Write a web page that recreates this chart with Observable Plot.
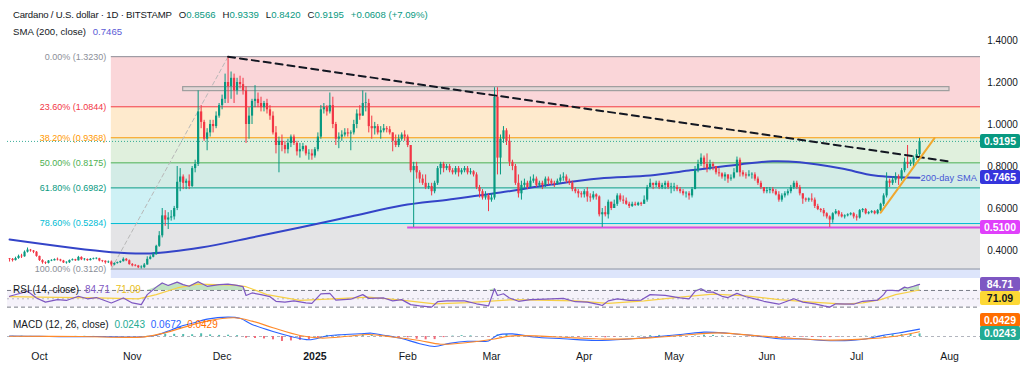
<!DOCTYPE html>
<html><head><meta charset="utf-8">
<script src="https://cdn.jsdelivr.net/npm/d3@7"></script>
<script src="https://cdn.jsdelivr.net/npm/@observablehq/plot@0.6"></script>
<style>
html,body{margin:0;padding:0;background:#fff;}
#wrap{position:relative;width:1024px;height:377px;overflow:hidden;font-family:"Liberation Sans",Arial,sans-serif;color:#131722;}
.pane{position:absolute;left:0;}
.pane svg{display:block;overflow:visible;}
.ov{position:absolute;white-space:nowrap;font-size:10px;line-height:12px;}
.ov .gap{margin-left:7px;}
.box{position:absolute;left:980px;width:40px;height:14px;line-height:14px;text-align:center;color:#fff;font-weight:bold;font-size:10.5px;border-radius:2px;}
</style></head><body><div id="wrap"></div>
<script>
// ---------- DATA ----------
const firstOpen = 0.360;
// daily candles as [high, low, close]; open = previous close
const sep24 = [[0.362,0.345,0.358],[0.362,0.345,0.352],[0.368,0.350,0.362],[0.378,0.358,0.372],[0.382,0.362,0.370],[0.398,0.368,0.392],[0.412,0.388,0.402],[0.405,0.392,0.398],[0.400,0.385,0.392],[0.395,0.368,0.372]];
const oct24 = [[0.373,0.348,0.352],[0.356,0.335,0.342],[0.346,0.333,0.339],[0.352,0.336,0.350],[0.356,0.347,0.351],[0.360,0.350,0.357],[0.364,0.350,0.355],[0.358,0.346,0.350],[0.353,0.338,0.341],[0.346,0.335,0.342],[0.355,0.338,0.352],[0.360,0.350,0.356],[0.358,0.348,0.351],[0.372,0.350,0.367],[0.370,0.352,0.356],[0.362,0.350,0.357],[0.360,0.348,0.352],[0.362,0.350,0.358],[0.364,0.355,0.360],[0.365,0.356,0.361],[0.363,0.346,0.350],[0.353,0.342,0.349],[0.351,0.335,0.342],[0.350,0.338,0.345],[0.350,0.322,0.331],[0.341,0.327,0.338],[0.345,0.335,0.342],[0.350,0.338,0.347],[0.365,0.345,0.358],[0.362,0.347,0.351],[0.355,0.330,0.333]];
const nov24 = [[0.338,0.322,0.327],[0.333,0.322,0.326],[0.329,0.314,0.318],[0.327,0.312,0.318],[0.338,0.315,0.331],[0.370,0.330,0.358],[0.375,0.355,0.368],[0.390,0.365,0.380],[0.425,0.378,0.420],[0.490,0.415,0.470],[0.600,0.460,0.565],[0.590,0.515,0.545],[0.580,0.500,0.555],[0.590,0.540,0.560],[0.610,0.545,0.600],[0.800,0.590,0.725],[0.790,0.680,0.750],[0.760,0.690,0.720],[0.740,0.690,0.730],[0.760,0.690,0.705],[0.800,0.700,0.790],[0.830,0.770,0.810],[1.160,0.800,1.060],[1.090,0.980,1.010],[1.020,0.920,0.930],[0.980,0.875,0.960],[1.020,0.940,1.000],[1.020,0.960,0.990],[1.060,0.980,1.040],[1.100,1.030,1.090]];
const dec24 = [[1.140,1.070,1.120],[1.240,1.100,1.200],[1.323,1.100,1.180],[1.250,1.120,1.220],[1.240,1.100,1.160],[1.220,1.140,1.200],[1.230,1.170,1.190],[1.220,1.140,1.160],[1.180,0.910,1.000],[1.080,0.930,1.040],[1.120,1.000,1.110],[1.185,1.080,1.120],[1.150,1.080,1.100],[1.130,1.060,1.080],[1.110,1.060,1.100],[1.120,1.050,1.070],[1.090,1.020,1.040],[1.060,0.950,0.960],[0.990,0.860,0.900],[0.940,0.770,0.920],[0.950,0.870,0.900],[0.920,0.860,0.880],[0.930,0.860,0.910],[0.950,0.890,0.940],[0.950,0.900,0.910],[0.920,0.850,0.870],[0.910,0.840,0.880],[0.910,0.870,0.895],[0.900,0.850,0.860],[0.880,0.830,0.860],[0.880,0.830,0.850]];
const jan25 = [[0.890,0.840,0.880],[0.960,0.870,0.940],[1.090,0.930,1.070],[1.100,1.050,1.080],[1.090,1.040,1.060],[1.150,1.050,1.090],[1.130,0.980,1.000],[1.010,0.900,0.930],[0.960,0.885,0.940],[0.970,0.920,0.950],[0.980,0.940,0.960],[0.980,0.940,0.955],[0.970,0.875,0.960],[1.020,0.950,1.000],[1.070,0.980,1.050],[1.090,1.020,1.040],[1.160,1.040,1.100],[1.150,1.060,1.100],[1.120,0.960,0.990],[1.040,0.930,0.980],[1.010,0.950,0.990],[1.000,0.950,0.960],[0.990,0.930,0.970],[1.000,0.960,0.980],[0.990,0.960,0.975],[0.990,0.950,0.960],[0.960,0.870,0.920],[0.950,0.890,0.900],[0.950,0.890,0.930],[0.960,0.920,0.950],[0.970,0.920,0.940]];
const feb25 = [[0.950,0.890,0.900],[0.900,0.770,0.780],[0.820,0.510,0.800],[0.820,0.740,0.770],[0.780,0.720,0.740],[0.760,0.710,0.720],[0.760,0.690,0.700],[0.720,0.690,0.705],[0.720,0.660,0.680],[0.730,0.670,0.720],[0.800,0.710,0.790],[0.820,0.760,0.810],[0.820,0.770,0.790],[0.810,0.780,0.800],[0.810,0.770,0.780],[0.790,0.760,0.770],[0.800,0.760,0.790],[0.800,0.750,0.770],[0.790,0.760,0.780],[0.800,0.770,0.790],[0.800,0.760,0.770],[0.790,0.760,0.775],[0.780,0.750,0.760],[0.770,0.690,0.700],[0.710,0.650,0.680],[0.690,0.640,0.650],[0.680,0.640,0.660],[0.670,0.585,0.640]];
const mar25 = [[0.670,0.630,0.650],[1.175,0.640,1.130],[1.175,0.760,0.840],[0.950,0.760,0.930],[0.990,0.910,0.970],[0.980,0.900,0.920],[0.950,0.800,0.820],[0.830,0.780,0.800],[0.810,0.710,0.720],[0.760,0.650,0.670],[0.730,0.640,0.710],[0.740,0.690,0.720],[0.730,0.690,0.700],[0.750,0.700,0.730],[0.760,0.720,0.740],[0.750,0.700,0.710],[0.730,0.700,0.720],[0.730,0.690,0.710],[0.750,0.700,0.740],[0.750,0.710,0.730],[0.740,0.710,0.720],[0.730,0.700,0.715],[0.740,0.710,0.730],[0.760,0.720,0.745],[0.770,0.730,0.750],[0.760,0.720,0.730],[0.740,0.710,0.720],[0.730,0.680,0.690],[0.700,0.670,0.680],[0.690,0.650,0.670],[0.680,0.650,0.665]];
const apr25 = [[0.690,0.650,0.680],[0.700,0.630,0.655],[0.670,0.630,0.650],[0.680,0.640,0.665],[0.670,0.640,0.655],[0.660,0.560,0.570],[0.600,0.510,0.580],[0.610,0.560,0.570],[0.640,0.550,0.630],[0.630,0.590,0.600],[0.640,0.600,0.620],[0.670,0.610,0.660],[0.670,0.630,0.640],[0.660,0.620,0.635],[0.650,0.615,0.620],[0.630,0.600,0.610],[0.630,0.605,0.620],[0.630,0.610,0.615],[0.630,0.610,0.625],[0.630,0.610,0.620],[0.660,0.620,0.640],[0.710,0.630,0.700],[0.740,0.700,0.720],[0.720,0.690,0.710],[0.730,0.700,0.720],[0.730,0.690,0.700],[0.720,0.690,0.710],[0.730,0.690,0.720],[0.730,0.690,0.700],[0.720,0.670,0.700]];
const may25 = [[0.720,0.680,0.700],[0.710,0.680,0.690],[0.700,0.670,0.680],[0.690,0.660,0.670],[0.680,0.650,0.670],[0.680,0.640,0.660],[0.700,0.650,0.690],[0.800,0.690,0.780],[0.830,0.770,0.810],[0.860,0.800,0.840],[0.850,0.790,0.810],[0.860,0.770,0.790],[0.830,0.780,0.810],[0.820,0.780,0.800],[0.800,0.760,0.770],[0.790,0.750,0.765],[0.770,0.740,0.750],[0.770,0.730,0.760],[0.760,0.720,0.740],[0.760,0.730,0.745],[0.790,0.740,0.770],[0.845,0.770,0.830],[0.840,0.750,0.770],[0.780,0.750,0.760],[0.770,0.740,0.755],[0.780,0.750,0.760],[0.770,0.740,0.760],[0.770,0.730,0.740],[0.750,0.710,0.720],[0.730,0.690,0.700],[0.700,0.670,0.680]];
const jun25 = [[0.700,0.670,0.685],[0.700,0.670,0.690],[0.700,0.670,0.680],[0.690,0.660,0.665],[0.680,0.630,0.640],[0.670,0.630,0.660],[0.680,0.650,0.670],[0.690,0.660,0.680],[0.710,0.670,0.700],[0.730,0.690,0.720],[0.730,0.690,0.700],[0.710,0.660,0.670],[0.670,0.620,0.645],[0.650,0.630,0.640],[0.650,0.630,0.645],[0.670,0.630,0.640],[0.650,0.600,0.610],[0.620,0.590,0.595],[0.600,0.580,0.590],[0.600,0.560,0.575],[0.580,0.550,0.560],[0.565,0.510,0.545],[0.580,0.530,0.575],[0.595,0.570,0.585],[0.590,0.560,0.570],[0.580,0.555,0.560],[0.570,0.550,0.565],[0.575,0.560,0.570],[0.580,0.565,0.575],[0.580,0.550,0.560]];
const jul25 = [[0.570,0.540,0.555],[0.595,0.550,0.590],[0.600,0.580,0.595],[0.600,0.570,0.575],[0.585,0.570,0.580],[0.590,0.575,0.585],[0.590,0.570,0.575],[0.595,0.570,0.590],[0.625,0.585,0.620],[0.670,0.610,0.660],[0.770,0.650,0.730],[0.740,0.700,0.720],[0.750,0.710,0.735],[0.770,0.720,0.750],[0.760,0.710,0.740],[0.790,0.730,0.780],[0.840,0.770,0.820],[0.900,0.790,0.810],[0.830,0.800,0.820],[0.850,0.800,0.840],[0.880,0.830,0.8566],[0.9339,0.8420,0.9195]];
const firstDay = [2024, 8, 21];

// 200-day SMA
const smaDates = ["2024-09-21","2024-10-25","2024-11-07","2024-11-24","2024-12-11","2024-12-27","2025-01-13","2025-01-30","2025-02-15","2025-03-04","2025-03-21","2025-04-06","2025-04-23","2025-05-06","2025-05-23","2025-06-03","2025-06-12","2025-06-26","2025-07-07","2025-07-22"];
const smaValues = [0.452,0.392,0.386,0.414,0.462,0.510,0.562,0.614,0.643,0.676,0.714,0.743,0.757,0.781,0.810,0.825,0.820,0.790,0.757,0.7465];

// Fibonacci retracement
const fibPcts = ["0.00%","23.60%","38.20%","50.00%","61.80%","78.60%","100.00%"];
const fibPrices = [1.3230,1.0844,0.9368,0.8175,0.6982,0.5284,0.3120];
const fibColors = ["#8c8f99","#f23645","#ff9800","#4caf50","#089981","#00bcd4","#8c8f99"];
const fibFills = ["#fad6d9","#feeacd","#e0f0dd","#d3ece6","#cef1f5","#e4e4e6","#dde5fb"];
const fibStart = "2024-10-25", fibEnd = "2024-12-03";

// drawings
const resistBox = {from:"2024-11-18", to:"2025-08-01", top:1.178, bottom:1.159};
const trendDates = ["2024-12-03","2025-08-01"], trendPrices = [1.323,0.824];
const supportDates = ["2025-07-09","2025-07-27"], supportPrices = [0.580,0.935];
const floorStart = "2025-02-01", floorPrice = 0.51;
const lastPrice = 0.9195, lastSma = 0.7465;

// RSI (14) and its MA
const rsiDates = ["2024-09-21","2024-09-25","2024-09-27","2024-09-30","2024-10-03","2024-10-07","2024-10-10","2024-10-14","2024-10-17","2024-10-20","2024-10-25","2024-10-29","2024-11-01","2024-11-04","2024-11-06","2024-11-09","2024-11-11","2024-11-13","2024-11-16","2024-11-18","2024-11-20","2024-11-23","2024-11-26","2024-11-30","2024-12-03","2024-12-06","2024-12-08","2024-12-09","2024-12-11","2024-12-14","2024-12-17","2024-12-19","2024-12-22","2024-12-25","2024-12-29","2024-12-31","2025-01-03","2025-01-06","2025-01-08","2025-01-13","2025-01-17","2025-01-19","2025-01-24","2025-01-27","2025-01-30","2025-02-02","2025-02-05","2025-02-09","2025-02-11","2025-02-14","2025-02-20","2025-02-24","2025-02-28","2025-03-02","2025-03-03","2025-03-05","2025-03-07","2025-03-10","2025-03-14","2025-03-19","2025-03-25","2025-03-29","2025-04-02","2025-04-06","2025-04-07","2025-04-09","2025-04-12","2025-04-16","2025-04-20","2025-04-23","2025-04-28","2025-05-03","2025-05-06","2025-05-08","2025-05-10","2025-05-12","2025-05-14","2025-05-17","2025-05-19","2025-05-22","2025-05-25","2025-05-29","2025-05-31","2025-06-05","2025-06-10","2025-06-13","2025-06-17","2025-06-20","2025-06-22","2025-06-24","2025-06-30","2025-07-03","2025-07-08","2025-07-10","2025-07-11","2025-07-13","2025-07-15","2025-07-17","2025-07-18","2025-07-20","2025-07-22"];
const rsiValues = [56,64,68,52,42,48,46,56,50,53,40,52,40,36,60,78,88,82,90,84,80,91,80,84,85,82,79,58,64,60,55,44,42,45,40,39,62,63,47,49,60,51,52,45,48,36,33,30,43,45,45,38,33,74,58,62,52,44,48,49,51,43,42,36,34,45,50,46,47,60,58,52,50,68,74,66,66,56,53,63,55,48,44,37,50,42,38,33,30,38,37,44,47,60,70,70,69,78,76,80,84.71];
const rsiMaDates = ["2024-09-21","2024-10-01","2024-10-20","2024-11-03","2024-11-09","2024-11-16","2024-11-23","2024-12-05","2024-12-09","2024-12-16","2024-12-27","2025-01-07","2025-01-19","2025-01-30","2025-02-10","2025-02-21","2025-03-08","2025-03-29","2025-04-09","2025-04-21","2025-05-03","2025-05-14","2025-05-25","2025-06-05","2025-06-16","2025-06-27","2025-07-03","2025-07-09","2025-07-14","2025-07-22"];
const rsiMaValues = [55,54,52,50,60,76,85,83,79,60,46,50,54,47,38,41,48,45,39,45,54,61,57,48,42,37,40,48,60,71.09];
const rsiLevels = [70, 50, 30];

// MACD (12, 26)
const macdDates = ["2024-09-21","2024-10-01","2024-10-10","2024-10-20","2024-11-03","2024-11-09","2024-11-14","2024-11-18","2024-11-21","2024-11-26","2024-12-03","2024-12-07","2024-12-11","2024-12-18","2024-12-25","2024-12-30","2025-01-05","2025-01-09","2025-01-16","2025-01-20","2025-01-24","2025-01-30","2025-02-05","2025-02-10","2025-02-15","2025-02-21","2025-02-28","2025-03-03","2025-03-08","2025-03-15","2025-03-25","2025-04-05","2025-04-16","2025-04-23","2025-05-04","2025-05-11","2025-05-19","2025-05-27","2025-06-05","2025-06-13","2025-06-20","2025-06-27","2025-07-04","2025-07-09","2025-07-15","2025-07-22"];
const macdValues = [0.004,0.001,-0.002,0.000,-0.004,0.012,0.060,0.100,0.120,0.158,0.176,0.165,0.110,0.045,-0.006,-0.030,0.005,0.015,0.025,0.030,0.012,-0.018,-0.065,-0.090,-0.062,-0.043,-0.040,0.012,0.024,-0.004,-0.020,-0.036,-0.022,-0.006,0.020,0.040,0.030,0.010,-0.020,-0.022,-0.036,-0.037,-0.022,0.006,0.032,0.0672];
const signalDates = ["2024-09-21","2024-10-15","2024-11-05","2024-11-12","2024-11-19","2024-11-26","2024-12-05","2024-12-11","2024-12-18","2024-12-27","2025-01-03","2025-01-12","2025-01-19","2025-01-27","2025-02-05","2025-02-12","2025-02-21","2025-03-02","2025-03-08","2025-03-29","2025-04-09","2025-04-23","2025-05-08","2025-05-16","2025-05-30","2025-06-10","2025-06-22","2025-07-03","2025-07-14","2025-07-22"];
const signalValues = [0.003,0.000,-0.003,0.035,0.090,0.140,0.170,0.140,0.080,0.010,-0.014,0.002,0.018,-0.004,-0.036,-0.070,-0.055,-0.022,0.006,-0.012,-0.024,-0.012,0.021,0.033,0.004,-0.018,-0.033,-0.024,0.003,0.0429];
const histStart = [2024, 8, 22], histStep = 3;
const histValues = [0.002,0.003,0.001,-0.002,-0.003,-0.002,0.000,0.001,0.002,0.001,-0.001,-0.002,-0.003,-0.004,-0.004,0.002,0.010,0.022,0.020,0.018,0.016,0.025,0.015,0.010,0.012,0.008,-0.015,-0.018,-0.022,-0.030,-0.045,-0.040,-0.035,-0.030,-0.015,0.010,0.008,0.004,0.006,0.015,0.012,0.005,-0.002,-0.008,-0.012,-0.025,-0.030,-0.028,-0.010,0.004,0.008,0.006,0.000,-0.005,0.015,0.018,0.010,0.003,-0.002,-0.003,-0.004,-0.002,-0.003,-0.006,-0.007,-0.008,-0.012,-0.006,0.000,0.002,0.003,0.008,0.010,0.007,0.003,-0.002,0.004,0.012,0.010,0.004,-0.002,0.000,-0.003,-0.006,-0.010,-0.012,-0.010,-0.004,-0.006,-0.008,-0.010,-0.010,-0.006,-0.002,0.000,0.003,0.004,0.008,0.016,0.018,0.022,0.0243];

// axes
const priceTicks = [1.4,1.2,1.0,0.8,0.6,0.4];
const monthTickDates = ["2024-10-01","2024-11-01","2024-12-01","2025-01-01","2025-02-01","2025-03-01","2025-04-01","2025-05-01","2025-06-01","2025-07-01","2025-08-01"];
const monthTickLabels = ["Oct","Nov","Dec","2025","Feb","Mar","Apr","May","Jun","Jul","Aug"];

// legend values
const legendTitle = "Cardano / U.S. dollar · 1D · BITSTAMP";
const legendOHLC = [["O","0.8566"],["H","0.9339"],["L","0.8420"],["C","0.9195"]];
const legendChange = "+0.0608 (+7.09%)";

// ---------- BUILD ----------
const UP = "#089981", DN = "#f23645";
const D = s => new Date(s + "T00:00:00Z");
const rows = [sep24,oct24,nov24,dec24,jan25,feb25,mar25,apr25,may25,jun25,jul25].flat();
const candles = rows.map(([h,l,c], i) => ({
  date: new Date(Date.UTC(firstDay[0], firstDay[1], firstDay[2] + i)),
  o: i ? rows[i-1][2] : firstOpen, h, l, c
}));
const ups = candles.filter(d => d.c >= d.o), dns = candles.filter(d => d.c < d.o);
const sma = smaDates.map((d,i) => ({date: D(d), v: smaValues[i]}));
const rsi = rsiDates.map((d,i) => ({date: D(d), v: rsiValues[i]}));
const rsiMa = rsiMaDates.map((d,i) => ({date: D(d), v: rsiMaValues[i]}));
const macd = macdDates.map((d,i) => ({date: D(d), v: macdValues[i]}));
const signal = signalDates.map((d,i) => ({date: D(d), v: signalValues[i]}));
const hist = histValues.map((v,k) => ({date: new Date(Date.UTC(histStart[0], histStart[1], histStart[2] + k*histStep)), v}));

const xDomain = [new Date("2024-09-20T07:30:00Z"), new Date("2025-08-11T08:40:00Z")];
const yMain = [0.2667, 1.5905];
const FONT = '"Liberation Sans", Arial, sans-serif';
const common = {width: 1024, marginLeft: 7, marginRight: 44, x: {type: "utc", domain: xDomain, axis: null},
  style: {fontFamily: FONT, background: "transparent", overflow: "visible"}};

const bands = fibPrices.map((p,i) => ({y1: p, y2: i < fibPrices.length-1 ? fibPrices[i+1] : yMain[0], fill: fibFills[i]}));
const fibRows = fibPrices.map((p,i) => ({p, color: fibColors[i], label: `${fibPcts[i]} (${p.toFixed(4)})`}));

const main = Plot.plot({
  ...common, height: 278, marginTop: 0, marginBottom: 0,
  y: {domain: yMain, axis: null},
  marks: [
    Plot.rect(bands, {x1: D(fibStart), x2: xDomain[1], y1: "y1", y2: "y2", fill: "fill"}),
    Plot.ruleY(fibRows, {y: "p", x1: D(fibStart), x2: xDomain[1], stroke: "color", strokeWidth: 1}),
    Plot.text(fibRows, {y: "p", x: D(fibStart), text: "label", fill: "color", textAnchor: "end", dx: -5, fontSize: 9}),
    Plot.line([{d: D(fibStart), p: fibPrices[6]}, {d: D(fibEnd), p: fibPrices[0]}], {x: "d", y: "p", stroke: "#b8b8b8", strokeDasharray: "4,3", strokeWidth: 1}),
    Plot.ruleY([lastPrice], {stroke: UP, strokeDasharray: "1,2", strokeWidth: 1, strokeOpacity: 0.8}),
    Plot.rect([resistBox], {x1: d => D(d.from), x2: d => D(d.to), y1: "bottom", y2: "top", fill: "#e3d6d6", stroke: "#9e9e9e", strokeWidth: 1.2}),
    Plot.ruleY([floorPrice], {x1: D(floorStart), x2: xDomain[1], stroke: "#d84ee0", strokeWidth: 2}),
    Plot.line(sma, {x: "date", y: "v", curve: "catmull-rom", stroke: "#3444c8", strokeWidth: 2}),
    Plot.ruleX(candles, {x: "date", y1: "l", y2: "h", stroke: d => d.c >= d.o ? UP : DN, strokeWidth: 1}),
    Plot.ruleX(ups, {x: "date", y1: "o", y2: d => Math.max(d.c, d.o + 0.003), stroke: UP, strokeWidth: 2.2}),
    Plot.ruleX(dns, {x: "date", y1: "c", y2: d => Math.max(d.o, d.c + 0.003), stroke: DN, strokeWidth: 2.2}),
    Plot.line(trendDates.map((d,i) => ({d: D(d), p: trendPrices[i]})), {x: "d", y: "p", stroke: "#131722", strokeWidth: 2, strokeDasharray: "7,5"}),
    Plot.line(supportDates.map((d,i) => ({d: D(d), p: supportPrices[i]})), {x: "d", y: "p", stroke: "#f0a830", strokeWidth: 2}),
    Plot.text([lastSma], {x: sma[sma.length-1].date, y: d => d, text: () => "200-day SMA", textAnchor: "start", dx: 1, fill: "#4657d6", fontSize: 9.3}),
    Plot.text(priceTicks, {x: xDomain[1], y: d => d, text: d => d.toFixed(4), dx: 22, textAnchor: "middle", fill: "#131722", fontSize: 10})
  ],
  color: {type: "identity"}
});

const rsiPlot = Plot.plot({
  ...common, height: 35, marginTop: 0, marginBottom: 0,
  y: {domain: [14.7, 98.7], axis: null},
  marks: [
    Plot.rect([rsiLevels], {x1: xDomain[0], x2: xDomain[1], y1: d => d[2], y2: d => d[0], fill: "#7e57c2", fillOpacity: 0.08}),
    Plot.ruleY([rsiLevels[0], rsiLevels[2]], {stroke: "#787b86", strokeDasharray: "4,3", strokeWidth: 1}),
    Plot.ruleY([rsiLevels[1]], {stroke: "#787b86", strokeOpacity: 0.5, strokeDasharray: "2,3", strokeWidth: 1}),
    Plot.areaY(rsi, {x: "date", y1: rsiLevels[0], y2: d => Math.max(rsiLevels[0], d.v), fill: "#4caf50", fillOpacity: 0.35}),
    Plot.areaY(rsi, {x: "date", y1: rsiLevels[2], y2: d => Math.min(rsiLevels[2], d.v), fill: "#f23645", fillOpacity: 0.3}),
    Plot.line(rsiMa, {x: "date", y: "v", stroke: "#f7d046", strokeWidth: 1.2}),
    Plot.line(rsi, {x: "date", y: "v", stroke: "#7e57c2", strokeWidth: 1.2})
  ]
});

const macdPlot = Plot.plot({
  ...common, height: 64, marginTop: 0, marginBottom: 27,
  y: {domain: [-0.127, 0.209], axis: null},
  marks: [
    Plot.ruleY([0], {stroke: "#b2b5be", strokeDasharray: "3,3", strokeWidth: 1}),
    Plot.ruleX(hist, {x: "date", y1: 0, y2: "v", stroke: d => d.v >= 0 ? "#4fbcae" : "#f26a78", strokeWidth: 2}),
    Plot.line(macd, {x: "date", y: "v", curve: "catmull-rom", stroke: "#2962ff", strokeWidth: 1.1}),
    Plot.line(signal, {x: "date", y: "v", curve: "catmull-rom", stroke: "#ff8a2a", strokeWidth: 1.1}),
    Plot.text(monthTickLabels.map((t,i) => ({t, d: D(monthTickDates[i])})).filter(r => r.t !== "2025"), {x: "d", text: "t", frameAnchor: "bottom", dy: 9, fill: "#131722", fontSize: 10.5}),
    Plot.text(monthTickLabels.map((t,i) => ({t, d: D(monthTickDates[i])})).filter(r => r.t === "2025"), {x: "d", text: "t", frameAnchor: "bottom", dy: 9, fill: "#131722", fontSize: 10.5, fontWeight: "bold"})
  ],
  color: {type: "identity"}
});

const wrap = document.getElementById("wrap");
function addPane(el, top) { const d = document.createElement("div"); d.className = "pane"; d.style.top = top + "px"; d.appendChild(el); wrap.appendChild(d); }
addPane(main, 0); addPane(rsiPlot, 278); addPane(macdPlot, 313);

function scaleFn(chart) { const s = chart.scale("y"); return s.apply ? (v => s.apply(v)) : (v => s.range[0] + (v - s.domain[0]) / (s.domain[1] - s.domain[0]) * (s.range[1] - s.range[0])); }
function ov(html, left, top, extra) { const d = document.createElement("div"); d.className = "ov"; d.style.left = left + "px"; d.style.top = top + "px"; if (extra) Object.assign(d.style, extra); d.innerHTML = html; wrap.appendChild(d); return d; }
function box(text, cy, bg, fg) { const d = document.createElement("div"); d.className = "box"; d.style.top = (cy - 7) + "px"; d.style.background = bg; d.style.color = fg || "#fff"; d.textContent = text; wrap.appendChild(d); }

// legends
const g = "#089981";
const ohlcHtml = legendOHLC.map(([k, v]) => `<span class="gap">${k}<span style="color:${g}">${v}</span></span>`).join("");
ov(`<span style="letter-spacing:-0.2px">${legendTitle}</span>${ohlcHtml}<span class="gap" style="color:${g}">${legendChange}</span>`, 13, 9, {fontSize: "9.6px"});
ov(`SMA (200, close) <span style="color:#5b5bd6;margin-left:4px">${lastSma.toFixed(4)}</span>`, 13, 26, {fontSize: "9.6px"});
ov(`RSI (14, close) <span style="color:#7e57c2;margin-left:3px">${rsiValues[rsiValues.length-1].toFixed(2)}</span> <span style="color:#e8c020;margin-left:3px">${rsiMaValues[rsiMaValues.length-1].toFixed(2)}</span>`, 13, 284);
ov(`MACD (12, 26, close) <span style="color:#22ab94;margin-left:3px">${histValues[histValues.length-1].toFixed(4)}</span> <span style="color:#2962ff;margin-left:3px">${macdValues[macdValues.length-1].toFixed(4)}</span> <span style="color:#ff6d00;margin-left:3px">${signalValues[signalValues.length-1].toFixed(4)}</span>`, 13, 319);

// price-scale label boxes
const ym = scaleFn(main), yr = scaleFn(rsiPlot), yc = scaleFn(macdPlot);
box(lastPrice.toFixed(4), ym(lastPrice), "#089981");
box(lastSma.toFixed(4), ym(lastSma), "#3535dc");
box(floorPrice.toFixed(4), ym(floorPrice), "#e040fb");
const rA = 278 + yr(rsiValues[rsiValues.length-1]);
const rB = Math.max(278 + yr(rsiMaValues[rsiMaValues.length-1]), rA + 14);
box(rsiValues[rsiValues.length-1].toFixed(2), rA, "#7e57c2");
box(rsiMaValues[rsiMaValues.length-1].toFixed(2), rB, "#fdd835", "#131722");
const mH = 313 + yc(histValues[histValues.length-1]);
const mS = Math.min(313 + yc(signalValues[signalValues.length-1]), mH - 13);
box(signalValues[signalValues.length-1].toFixed(4), mS, "#ff6d00");
box(histValues[histValues.length-1].toFixed(4), mH, "#22ab94");
</script></body></html>
